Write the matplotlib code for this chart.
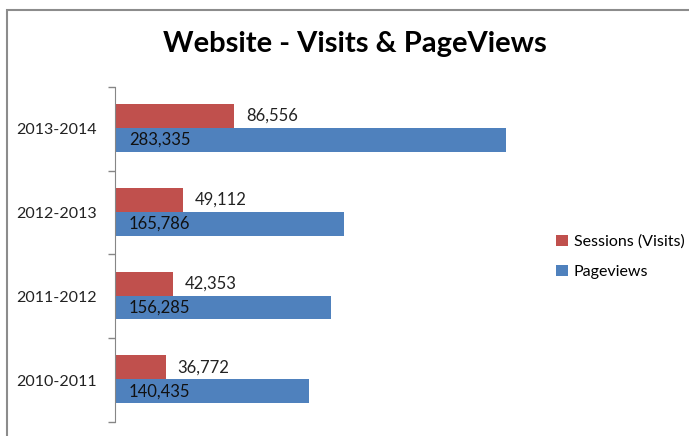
import matplotlib
matplotlib.use("Agg")
import matplotlib.pyplot as plt
from matplotlib.patches import Rectangle
import numpy as np

categories = ["2010-2011", "2011-2012", "2012-2013", "2013-2014"]
sessions = [36772, 42353, 49112, 86556]
pageviews = [140435, 156285, 165786, 283335]
series_names = ["Sessions (Visits)", "Pageviews"]
colors = ["#C0504D", "#4F81BD"]

plt.rcParams['font.family'] = ['Lato', 'DejaVu Sans']

W, H = 689, 436
fig = plt.figure(figsize=(W/100, H/100), dpi=100)

# chart border
fig.patches.append(Rectangle((7/W, 0 - 0.05), 1.0, 1 - 10/H + 0.05, transform=fig.transFigure,
                             fill=False, edgecolor="#8c8c8c", linewidth=1.5, clip_on=False))

left, right, top, bottom = 115, 529, 87, 422
ax = fig.add_axes([left/W, 1 - bottom/H, (right-left)/W, (bottom-top)/H])

y = np.arange(len(categories))
h = 0.286
ax.barh(y + h/2 + 0.01, sessions, height=h, color=colors[0], label=series_names[0])
ax.barh(y - h/2 + 0.01, pageviews, height=h, color=colors[1], label=series_names[1])

for yi, s, p in zip(y, sessions, pageviews):
    ax.annotate(f"{s:,}", xy=(s, yi + h/2 + 0.01), xytext=(8.5, 0), textcoords="offset points",
                ha="left", va="center", fontsize=12, color="#222222")
    ax.annotate(f"{p:,}", xy=(0, yi - h/2 + 0.01), xytext=(10, 0), textcoords="offset points",
                ha="left", va="center", fontsize=12, color="#111111")

ax.set_xlim(0, 300000)
ax.set_ylim(-0.5, len(categories) - 0.5)
ax.set_xticks([])
ax.set_yticks(np.arange(-0.5, len(categories), 1.0))
ax.set_yticklabels([])
ax.set_yticks(y, minor=True)
ax.set_yticklabels(categories, minor=True, fontsize=11.5, color="#222222")
ax.tick_params(axis="y", which="major", length=5, color="#868686", width=1)
ax.tick_params(axis="y", which="minor", length=0, pad=13)
for s in ["top", "right", "bottom"]:
    ax.spines[s].set_visible(False)
ax.spines["left"].set_color("#868686")

fig.text(355/W, 1 - 44/H, "Website - Visits & PageViews", ha="center", va="center",
         fontsize=21, fontweight="bold", color="black")

leg = fig.legend(loc="upper left", bbox_to_anchor=(542/W, 1 - 220/H), frameon=False,
                 fontsize=11.5, handlelength=0.7, handleheight=0.7, handletextpad=0.4,
                 labelspacing=1.0)

fig.savefig("out.png", dpi=100)
